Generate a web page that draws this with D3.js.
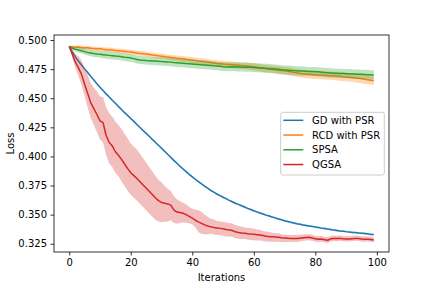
<!DOCTYPE html>
<html>
<head>
<meta charset="utf-8">
<script src="https://cdn.jsdelivr.net/npm/d3@7"></script>
<style>
  body { margin: 0; background: #fff; }
  svg { display: block; font-family: "DejaVu Sans", sans-serif; }
</style>
</head>
<body>
<div id="chart"></div>
<script>
// Loss per iteration
const iterations = d3.range(0, 100);

const gdLoss = [
  0.4945, 0.4898, 0.4855, 0.4818, 0.4785, 0.4752, 0.4721, 0.4688, 0.4657, 0.4624,
  0.4594, 0.4566, 0.4537, 0.4511, 0.4482, 0.4456, 0.4429, 0.4403, 0.4376, 0.4352,
  0.4326, 0.4301, 0.4274, 0.4249, 0.4223, 0.4198, 0.4173, 0.4146, 0.4122, 0.4096,
  0.4070, 0.4045, 0.4018, 0.3993, 0.3966, 0.3941, 0.3916, 0.3892, 0.3869, 0.3846,
  0.3825, 0.3804, 0.3784, 0.3764, 0.3745, 0.3727, 0.3709, 0.3693, 0.3677, 0.3663,
  0.3649, 0.3637, 0.3622, 0.3611, 0.3598, 0.3588, 0.3576, 0.3565, 0.3554, 0.3544,
  0.3533, 0.3524, 0.3514, 0.3506, 0.3496, 0.3488, 0.3479, 0.3472, 0.3462, 0.3456,
  0.3447, 0.3441, 0.3434, 0.3428, 0.3422, 0.3418, 0.3411, 0.3407, 0.3402, 0.3399,
  0.3394, 0.3390, 0.3384, 0.3381, 0.3376, 0.3372, 0.3367, 0.3364, 0.3360, 0.3358,
  0.3354, 0.3351, 0.3347, 0.3346, 0.3342, 0.3341, 0.3338, 0.3335, 0.3330, 0.3329
];
const gdSpread = [
  0.0000, 0.0003, 0.0005, 0.0006, 0.0007, 0.0008, 0.0008, 0.0008, 0.0008, 0.0008,
  0.0008, 0.0008, 0.0008, 0.0008, 0.0008, 0.0008, 0.0008, 0.0008, 0.0008, 0.0008,
  0.0008, 0.0008, 0.0008, 0.0008, 0.0008, 0.0008, 0.0008, 0.0008, 0.0008, 0.0008,
  0.0008, 0.0008, 0.0008, 0.0008, 0.0008, 0.0008, 0.0008, 0.0008, 0.0008, 0.0008,
  0.0008, 0.0008, 0.0008, 0.0008, 0.0008, 0.0008, 0.0008, 0.0008, 0.0008, 0.0008,
  0.0008, 0.0008, 0.0008, 0.0008, 0.0008, 0.0008, 0.0008, 0.0008, 0.0008, 0.0008,
  0.0008, 0.0008, 0.0008, 0.0008, 0.0008, 0.0008, 0.0008, 0.0008, 0.0008, 0.0008,
  0.0008, 0.0008, 0.0008, 0.0008, 0.0008, 0.0008, 0.0008, 0.0008, 0.0008, 0.0008,
  0.0008, 0.0008, 0.0008, 0.0008, 0.0008, 0.0008, 0.0008, 0.0008, 0.0008, 0.0008,
  0.0008, 0.0008, 0.0008, 0.0008, 0.0008, 0.0008, 0.0008, 0.0008, 0.0008, 0.0008
];

const rcdLoss = [
  0.4945, 0.4942, 0.4938, 0.4940, 0.4935, 0.4933, 0.4934, 0.4929, 0.4927, 0.4925,
  0.4924, 0.4920, 0.4917, 0.4915, 0.4914, 0.4910, 0.4908, 0.4905, 0.4902, 0.4899,
  0.4897, 0.4892, 0.4889, 0.4885, 0.4882, 0.4879, 0.4876, 0.4872, 0.4868, 0.4864,
  0.4861, 0.4858, 0.4853, 0.4850, 0.4847, 0.4843, 0.4841, 0.4838, 0.4834, 0.4831,
  0.4828, 0.4825, 0.4820, 0.4817, 0.4813, 0.4810, 0.4806, 0.4803, 0.4799, 0.4796,
  0.4793, 0.4791, 0.4789, 0.4787, 0.4785, 0.4783, 0.4780, 0.4778, 0.4776, 0.4773,
  0.4770, 0.4766, 0.4761, 0.4757, 0.4752, 0.4749, 0.4746, 0.4744, 0.4741, 0.4738,
  0.4735, 0.4732, 0.4727, 0.4722, 0.4718, 0.4713, 0.4709, 0.4707, 0.4705, 0.4703,
  0.4702, 0.4700, 0.4699, 0.4697, 0.4695, 0.4694, 0.4692, 0.4690, 0.4688, 0.4685,
  0.4683, 0.4680, 0.4677, 0.4674, 0.4671, 0.4667, 0.4663, 0.4659, 0.4655, 0.4651
];
const rcdSpread = [
  0.0000, 0.0008, 0.0012, 0.0014, 0.0015, 0.0016, 0.0016, 0.0017, 0.0017, 0.0018,
  0.0018, 0.0018, 0.0019, 0.0019, 0.0019, 0.0019, 0.0020, 0.0020, 0.0020, 0.0020,
  0.0020, 0.0020, 0.0021, 0.0021, 0.0021, 0.0021, 0.0021, 0.0022, 0.0022, 0.0022,
  0.0022, 0.0022, 0.0023, 0.0023, 0.0023, 0.0023, 0.0024, 0.0024, 0.0024, 0.0025,
  0.0025, 0.0025, 0.0026, 0.0026, 0.0026, 0.0027, 0.0027, 0.0027, 0.0028, 0.0028,
  0.0028, 0.0028, 0.0029, 0.0029, 0.0029, 0.0029, 0.0029, 0.0030, 0.0030, 0.0030,
  0.0030, 0.0030, 0.0031, 0.0031, 0.0031, 0.0031, 0.0032, 0.0032, 0.0032, 0.0033,
  0.0033, 0.0033, 0.0033, 0.0034, 0.0034, 0.0034, 0.0034, 0.0035, 0.0035, 0.0035,
  0.0035, 0.0035, 0.0036, 0.0036, 0.0036, 0.0036, 0.0036, 0.0037, 0.0037, 0.0037,
  0.0037, 0.0037, 0.0037, 0.0038, 0.0038, 0.0038, 0.0038, 0.0038, 0.0038, 0.0038
];

const spsaLoss = [
  0.4945, 0.4929, 0.4921, 0.4915, 0.4908, 0.4900, 0.4893, 0.4889, 0.4884, 0.4880,
  0.4877, 0.4874, 0.4871, 0.4868, 0.4865, 0.4862, 0.4860, 0.4856, 0.4852, 0.4849,
  0.4845, 0.4840, 0.4832, 0.4828, 0.4826, 0.4823, 0.4822, 0.4820, 0.4819, 0.4817,
  0.4816, 0.4814, 0.4812, 0.4810, 0.4807, 0.4805, 0.4803, 0.4801, 0.4798, 0.4796,
  0.4794, 0.4792, 0.4790, 0.4788, 0.4786, 0.4784, 0.4782, 0.4779, 0.4777, 0.4775,
  0.4771, 0.4768, 0.4769, 0.4770, 0.4769, 0.4768, 0.4767, 0.4766, 0.4766, 0.4765,
  0.4764, 0.4762, 0.4760, 0.4759, 0.4757, 0.4756, 0.4754, 0.4751, 0.4748, 0.4745,
  0.4743, 0.4741, 0.4739, 0.4737, 0.4735, 0.4734, 0.4733, 0.4731, 0.4730, 0.4729,
  0.4728, 0.4727, 0.4724, 0.4721, 0.4719, 0.4717, 0.4715, 0.4714, 0.4713, 0.4712,
  0.4711, 0.4710, 0.4708, 0.4707, 0.4706, 0.4705, 0.4704, 0.4702, 0.4701, 0.4700
];
const spsaSpread = [
  0.0000, 0.0012, 0.0018, 0.0022, 0.0024, 0.0026, 0.0027, 0.0028, 0.0029, 0.0029,
  0.0030, 0.0030, 0.0031, 0.0031, 0.0032, 0.0032, 0.0032, 0.0033, 0.0033, 0.0033,
  0.0034, 0.0034, 0.0034, 0.0034, 0.0034, 0.0035, 0.0035, 0.0035, 0.0035, 0.0035,
  0.0035, 0.0035, 0.0035, 0.0036, 0.0036, 0.0036, 0.0036, 0.0036, 0.0036, 0.0036,
  0.0036, 0.0036, 0.0036, 0.0036, 0.0037, 0.0037, 0.0037, 0.0037, 0.0037, 0.0037,
  0.0037, 0.0037, 0.0037, 0.0037, 0.0037, 0.0038, 0.0038, 0.0038, 0.0038, 0.0038,
  0.0038, 0.0038, 0.0038, 0.0038, 0.0038, 0.0038, 0.0038, 0.0039, 0.0039, 0.0039,
  0.0039, 0.0039, 0.0039, 0.0039, 0.0039, 0.0039, 0.0039, 0.0039, 0.0039, 0.0039,
  0.0040, 0.0040, 0.0040, 0.0040, 0.0040, 0.0040, 0.0040, 0.0040, 0.0040, 0.0040,
  0.0040, 0.0040, 0.0040, 0.0040, 0.0040, 0.0040, 0.0040, 0.0040, 0.0040, 0.0040
];

const qgsaLoss = [
  0.4945, 0.4878, 0.4810, 0.4760, 0.4705, 0.4620, 0.4540, 0.4460, 0.4410, 0.4360,
  0.4305, 0.4290, 0.4180, 0.4120, 0.4090, 0.4040, 0.4010, 0.3975, 0.3935, 0.3895,
  0.3860, 0.3835, 0.3810, 0.3783, 0.3755, 0.3728, 0.3700, 0.3672, 0.3645, 0.3620,
  0.3605, 0.3598, 0.3592, 0.3582, 0.3540, 0.3522, 0.3518, 0.3512, 0.3500, 0.3485,
  0.3470, 0.3452, 0.3438, 0.3425, 0.3412, 0.3402, 0.3395, 0.3390, 0.3386, 0.3382,
  0.3378, 0.3372, 0.3368, 0.3364, 0.3352, 0.3347, 0.3343, 0.3340, 0.3336, 0.3333,
  0.3331, 0.3328, 0.3325, 0.3320, 0.3315, 0.3311, 0.3309, 0.3307, 0.3305, 0.3302,
  0.3300, 0.3298, 0.3296, 0.3296, 0.3294, 0.3298, 0.3302, 0.3304, 0.3305, 0.3300,
  0.3292, 0.3289, 0.3290, 0.3285, 0.3280, 0.3292, 0.3295, 0.3294, 0.3296, 0.3292,
  0.3290, 0.3290, 0.3293, 0.3296, 0.3294, 0.3290, 0.3288, 0.3289, 0.3286, 0.3282
];
const qgsaUpper = [
  0.000, 0.004, 0.007, 0.010, 0.012, 0.014, 0.016, 0.017, 0.018, 0.020,
  0.021, 0.022, 0.024, 0.025, 0.025, 0.026, 0.026, 0.026, 0.026, 0.026,
  0.025, 0.025, 0.025, 0.024, 0.023, 0.022, 0.021, 0.020, 0.019, 0.018,
  0.017, 0.015, 0.013, 0.012, 0.012, 0.011, 0.010, 0.009, 0.009, 0.008,
  0.008, 0.009, 0.010, 0.010, 0.009, 0.008, 0.007, 0.007, 0.006, 0.006,
  0.006, 0.006, 0.006, 0.006, 0.006, 0.0055, 0.0055, 0.005, 0.005, 0.005,
  0.005, 0.0045, 0.0045, 0.004, 0.004, 0.004, 0.0035, 0.0035, 0.0035, 0.003,
  0.003, 0.003, 0.003, 0.003, 0.003, 0.003, 0.0028, 0.0028, 0.0027, 0.0027,
  0.0026, 0.0026, 0.0026, 0.0025, 0.0025, 0.0025, 0.0025, 0.0025, 0.0025, 0.0025,
  0.0025, 0.0025, 0.0025, 0.0025, 0.0025, 0.0025, 0.0025, 0.0025, 0.0025, 0.0025
];
const qgsaLower = [
  0.000, 0.003, 0.005, 0.007, 0.009, 0.010, 0.012, 0.013, 0.014, 0.015,
  0.016, 0.017, 0.017, 0.018, 0.018, 0.018, 0.018, 0.019, 0.019, 0.019,
  0.019, 0.019, 0.019, 0.019, 0.019, 0.019, 0.019, 0.019, 0.019, 0.018,
  0.017, 0.016, 0.015, 0.013, 0.011, 0.010, 0.009, 0.008, 0.007, 0.006,
  0.0055, 0.006, 0.009, 0.009, 0.008, 0.007, 0.006, 0.006, 0.006, 0.006,
  0.006, 0.006, 0.0055, 0.0055, 0.0055, 0.0055, 0.0055, 0.005, 0.005, 0.005,
  0.005, 0.005, 0.0048, 0.0047, 0.0046, 0.0045, 0.0043, 0.0041, 0.0039, 0.0037,
  0.0035, 0.0033, 0.0031, 0.003, 0.0029, 0.0028, 0.0027, 0.0026, 0.0026, 0.0025,
  0.0025, 0.0024, 0.0024, 0.0023, 0.0023, 0.0022, 0.0022, 0.0022, 0.0021, 0.0021,
  0.002, 0.002, 0.002, 0.002, 0.002, 0.002, 0.002, 0.002, 0.002, 0.002
];

const seriesNames = ["GD with PSR", "RCD with PSR", "SPSA", "QGSA"];
const seriesColors = ["#1f77b4", "#ff7f0e", "#2ca02c", "#d62728"];
const yTicks = [0.325, 0.350, 0.375, 0.400, 0.425, 0.450, 0.475, 0.500];
const xTicks = [0, 20, 40, 60, 80, 100];

// Figure and axes box (matplotlib-like layout)
const W = 432, H = 288;
const margin = { top: 35, right: 43, bottom: 36, left: 54 },
      width = W - margin.left - margin.right,
      height = H - margin.top - margin.bottom;

const svg = d3.select("#chart").append("svg")
    .attr("width", W)
    .attr("height", H);

const g = svg.append("g")
    .attr("transform", `translate(${margin.left},${margin.top})`);

const xScale = d3.scaleLinear().domain([-4.95, 103.95]).range([0, width]);
const yScale = d3.scaleLinear().domain([0.3179, 0.5043]).range([height, 0]);

// Build series from the arrays
const series = [
  { name: seriesNames[0], color: seriesColors[0], mean: gdLoss,
    hi: gdLoss.map((v, i) => v + gdSpread[i]), lo: gdLoss.map((v, i) => v - gdSpread[i]) },
  { name: seriesNames[1], color: seriesColors[1], mean: rcdLoss,
    hi: rcdLoss.map((v, i) => v + rcdSpread[i]), lo: rcdLoss.map((v, i) => v - rcdSpread[i]) },
  { name: seriesNames[2], color: seriesColors[2], mean: spsaLoss,
    hi: spsaLoss.map((v, i) => v + spsaSpread[i]), lo: spsaLoss.map((v, i) => v - spsaSpread[i]) },
  { name: seriesNames[3], color: seriesColors[3], mean: qgsaLoss,
    hi: qgsaLoss.map((v, i) => v + qgsaUpper[i]), lo: qgsaLoss.map((v, i) => v - qgsaLower[i]) }
];

const line = d3.line()
    .x(d => xScale(d[0]))
    .y(d => yScale(d[1]));

const area = d3.area()
    .x(d => xScale(d.x))
    .y0(d => yScale(d.lo))
    .y1(d => yScale(d.hi));

series.forEach(s => {
  const band = iterations.map((x, i) => ({ x, lo: s.lo[i], hi: s.hi[i] }));
  g.append("path")
      .datum(band)
      .attr("fill", s.color)
      .attr("fill-opacity", 0.3)
      .attr("stroke", "none")
      .attr("d", area);
  g.append("path")
      .datum(iterations.map((x, i) => [x, s.mean[i]]))
      .attr("fill", "none")
      .attr("stroke", s.color)
      .attr("stroke-width", 1.5)
      .attr("stroke-linejoin", "round")
      .attr("d", line);
});

// Axes
const xAxis = d3.axisBottom(xScale).tickValues(xTicks).tickSize(3.5).tickPadding(3.5).tickFormat(d3.format("d"));
const yAxis = d3.axisLeft(yScale).tickValues(yTicks).tickSize(3.5).tickPadding(3.5).tickFormat(d3.format(".3f"));

const gx = g.append("g").attr("transform", `translate(0,${height})`).call(xAxis);
const gy = g.append("g").call(yAxis);

[gx, gy].forEach(ax => {
  ax.select(".domain").remove();
  ax.selectAll(".tick line").attr("stroke", "#000").attr("stroke-width", 0.8);
  ax.selectAll(".tick text")
      .attr("fill", "#000")
      .attr("font-size", "10px")
      .attr("font-family", "DejaVu Sans, sans-serif");
});

// Spines
g.append("rect")
    .attr("x", 0).attr("y", 0)
    .attr("width", width).attr("height", height)
    .attr("fill", "none")
    .attr("stroke", "#000")
    .attr("stroke-width", 0.8);

// Axis labels
svg.append("text")
    .attr("x", margin.left + width / 2)
    .attr("y", 280.5)
    .attr("text-anchor", "middle")
    .attr("font-size", "10px")
    .text("Iterations");

svg.append("text")
    .attr("transform", `translate(14,${margin.top + height / 2}) rotate(-90)`)
    .attr("text-anchor", "middle")
    .attr("font-size", "10px")
    .text("Loss");

// Legend
const legend = svg.append("g").attr("transform", "translate(280.7,112.3)");
legend.append("rect")
    .attr("width", 103.6)
    .attr("height", 62.7)
    .attr("rx", 2).attr("ry", 2)
    .attr("fill", "#fff")
    .attr("fill-opacity", 0.8)
    .attr("stroke", "#cccccc")
    .attr("stroke-width", 1);

const items = legend.selectAll(".legendItem")
    .data(series)
    .enter()
    .append("g")
    .attr("class", "legendItem")
    .attr("transform", (d, i) => `translate(0,${8 + i * 14.75})`);

items.append("line")
    .attr("x1", 2.6).attr("x2", 22.6)
    .attr("y1", 0).attr("y2", 0)
    .attr("stroke", d => d.color)
    .attr("stroke-width", 1.5);

items.append("text")
    .attr("x", 31.4)
    .attr("y", 3.6)
    .attr("font-size", "10px")
    .text(d => d.name);
</script>
</body>
</html>
